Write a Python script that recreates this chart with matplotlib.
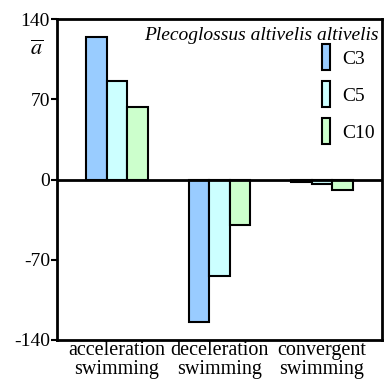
import matplotlib
matplotlib.use("Agg")
import matplotlib.pyplot as plt
import numpy as np

categories = ["acceleration\nswimming", "deceleration\nswimming", "convergent\nswimming"]
series_names = ["C3", "C5", "C10"]
c3 = [124, -124, -2]
c5 = [85.5, -84, -3.5]
c10 = [63, -40, -9]
colors = ["#99CCFF", "#CCFFFF", "#CCFFCC"]
yticks = [-140, -70, 0, 70, 140]

plt.rcParams['font.family'] = ['Liberation Serif', 'DejaVu Serif']
plt.rcParams['mathtext.fontset'] = 'stix'
fig = plt.figure(figsize=(3.85, 3.87), dpi=100)
ax = fig.add_axes([57/385, 1-340/387, 325/385, 321/387])

x = np.arange(len(categories))
w = 0.2
for i, (vals, name, col) in enumerate(zip([c3, c5, c10], series_names, colors)):
    ax.bar(x + (i-1)*w, vals, w, color=col, edgecolor="black", linewidth=1.5, label=name, zorder=2)

ax.axhline(0, color="black", linewidth=2, zorder=3)
ax.set_xlim(-0.585, 2.585)
ax.set_ylim(-140, 140)
ax.set_yticks(yticks)
ax.set_yticklabels([str(t) for t in yticks], fontsize=14)
ax.set_xticks(x)
ax.set_xticklabels(categories, fontsize=14.5, linespacing=1.0)
ax.tick_params(axis='x', length=0, pad=1)
ax.tick_params(axis='y', direction='out', length=4, width=1.5, pad=1)
for s in ax.spines.values():
    s.set_linewidth(2)

ax.text(0.99, 0.975, "Plecoglossus altivelis altivelis", transform=ax.transAxes,
        ha='right', va='top', fontsize=14, style='italic')
fig.text(37/385, 1-50/387, r'$\overline{a}$', ha='center', va='center', fontsize=16)

leg = ax.legend(loc='upper right', bbox_to_anchor=(1.031, 0.976), frameon=False, fontsize=14,
                handlelength=0.45, handleheight=1.7, handletextpad=0.6, labelspacing=0.55)
for p in leg.get_patches():
    p.set_linewidth(1.5)

fig.savefig("out.png", dpi=100)
